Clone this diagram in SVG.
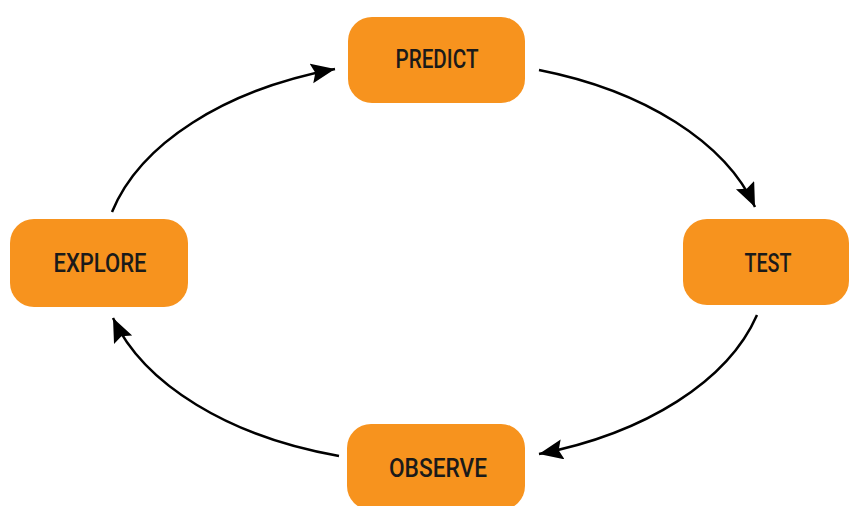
<svg xmlns="http://www.w3.org/2000/svg" width="852" height="506" viewBox="0 0 852 506">
  <style>
    .box { fill: #F7931E; }
    .lbl { font-family: Roboto, "Liberation Sans", Arial, sans-serif; font-weight: 500; font-size: 25px; fill: #1a1a1a; text-anchor: middle; }
    .conn { fill: none; stroke: #000; stroke-width: 2.5; marker-end: url(#ah); }
  </style>
  <defs>
    <marker id="ah" markerUnits="userSpaceOnUse" markerWidth="26" markerHeight="22" refX="24" refY="10" orient="auto" viewBox="0 0 26 22">
      <path d="M0,0 L24,10 L0,20 L4,10 z" fill="#000"/>
    </marker>
  </defs>
  <rect width="852" height="506" fill="#fff"/>
  <g id="connectors">
    <path class="conn" d="M112,212 A330,200 0 0 1 335,69"/>
    <path class="conn" d="M539,70 A330,200 0 0 1 755,207"/>
    <path class="conn" d="M757,315 A330,200 0 0 1 539,454"/>
    <path class="conn" d="M339,456 A330,200 0 0 1 113,318"/>
  </g>
  <g id="predict">
    <rect class="box" x="348" y="17" width="177" height="86" rx="24"/>
    <text class="lbl" x="437" y="68" textLength="83" lengthAdjust="spacingAndGlyphs">PREDICT</text>
  </g>
  <g id="test">
    <rect class="box" x="683" y="219" width="166" height="86" rx="24"/>
    <text class="lbl" x="768" y="272" textLength="47" lengthAdjust="spacingAndGlyphs">TEST</text>
  </g>
  <g id="observe">
    <rect class="box" x="347" y="424" width="178" height="86" rx="24"/>
    <text class="lbl" x="438" y="477" textLength="98" lengthAdjust="spacingAndGlyphs">OBSERVE</text>
  </g>
  <g id="explore">
    <rect class="box" x="10" y="219" width="178" height="88" rx="24"/>
    <text class="lbl" x="100" y="272" textLength="93" lengthAdjust="spacingAndGlyphs">EXPLORE</text>
  </g>
</svg>
